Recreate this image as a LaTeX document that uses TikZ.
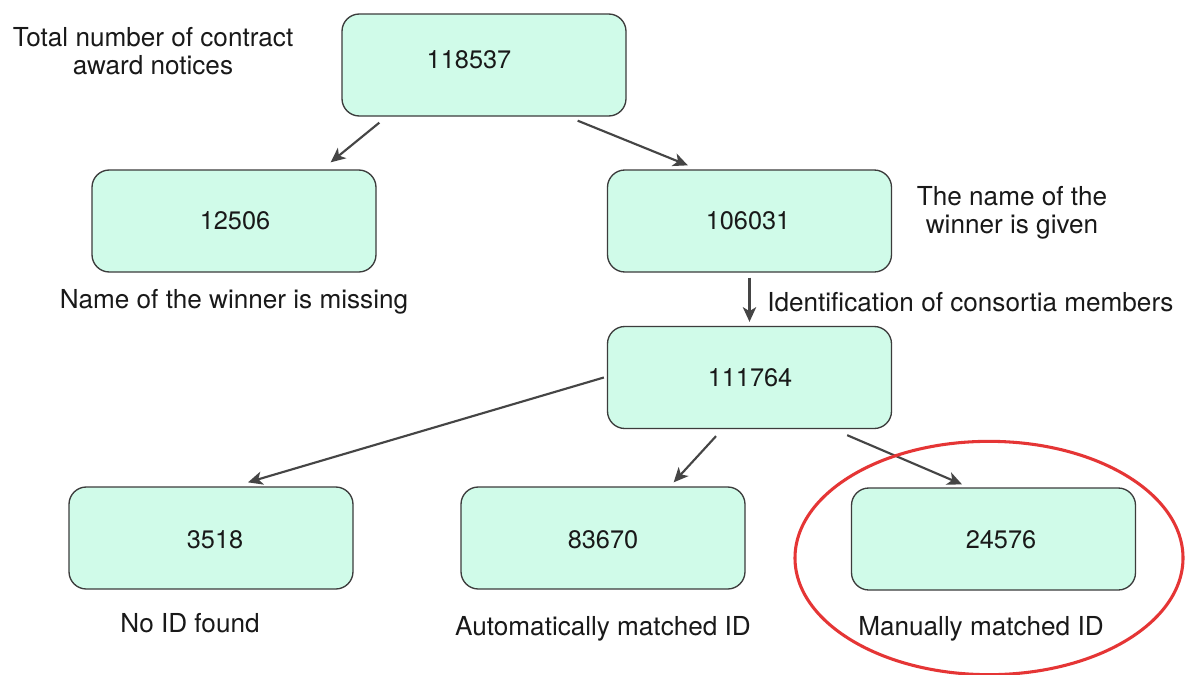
\documentclass[tikz,border=0pt]{standalone}
\usepackage{fontspec}
\setmainfont{TeX Gyre Heros}
\usetikzlibrary{arrows.meta,shapes.geometric}
\definecolor{boxfill}{HTML}{D0FBE9}
\definecolor{boxline}{HTML}{3C3C3C}
\definecolor{arrowgray}{HTML}{454545}
\definecolor{ringred}{HTML}{E53535}
\tikzset{
  x=0.75pt, y=-0.75pt,
  box/.style={draw=boxline, fill=boxfill, line width=1pt, rounded corners=13pt,
    minimum width=213pt, minimum height=76.5pt, inner sep=0pt},
  num/.style={font=\fontsize{19}{21}\selectfont, text=black!90, inner sep=0pt},
  note/.style={font=\fontsize{19.6}{21}\selectfont, text=black!90, inner sep=0pt, align=center},
  arr/.style={draw=arrowgray, line width=1.6pt, -{Stealth[length=11pt,width=10pt,inset=3pt]}},
}
\begin{document}
\begin{tikzpicture}
\useasboundingbox (0,0) rectangle (1186,675);
\fill[white] (0,0) rectangle (1186,675);

% boxes
\node[box] (top) at (484,65) {};
\node[box] (b1) at (234,221) {};
\node[box] (b2) at (749.5,221) {};
\node[box] (b3) at (749.5,377.5) {};
\node[box] (b4) at (211,538) {};
\node[box] (b5) at (603,538) {};
\node[box] (b6) at (993.5,539) {};

% counts
\node[num] (n0) at (469,60) {118537};
\node[num] (n1) at (235,221) {12506};
\node[num] (n2) at (748,221) {106031};
\node[num] (n3) at (750,378) {111764};
\node[num] (n4) at (215,540) {3518};
\node[num] (n5) at (603,540) {83670};
\node[num] (n6) at (1001,540) {24576};

% descriptions
\node[note] (t0) at (153,51) {Total number of contract\\award notices};
\node[note] (t2) at (1012,213) {The name of the\\winner is given};
\node[note] (t1) at (234,302) {Name of the winner is missing};
\node[note, anchor=west] (t3) at (767,302) {Identification of consortia members};
\node[note] (t4) at (190,623) {No ID found};
\node[note] (t5) at (603,629) {Automatically matched ID};
\node[note] (t6) at (981,629) {Manually matched ID};

% connectors
\draw[arr] ([shift={(38,6)}]top.south west) -- ([shift={(-46,-7)}]b1.north east);
\draw[arr] ([shift={(-49,4)}]top.south east) -- ([shift={(81,-4)}]b2.north west);
\draw[arr] ([shift={(0,5)}]b2.south) -- ([shift={(0,-4)}]b3.north);
\draw[arr] ([shift={(-3,0)}]b3.west) -- ([shift={(37,-4)}]b4.north);
\draw[arr] ([shift={(-33.5,7)}]b3.south) -- ([shift={(-72,-4)}]b5.north east);
\draw[arr] ([shift={(-45,6)}]b3.south east) -- ([shift={(-31.5,-3)}]b6.north);

% highlight ring
\begin{scope}
\clip (0,0) rectangle (1186,675);
\node[draw=ringred, line width=2.3pt, ellipse, minimum width=291pt, minimum height=175pt, inner sep=0pt] (ring) at (989,558) {};
\end{scope}
\end{tikzpicture}
\end{document}
